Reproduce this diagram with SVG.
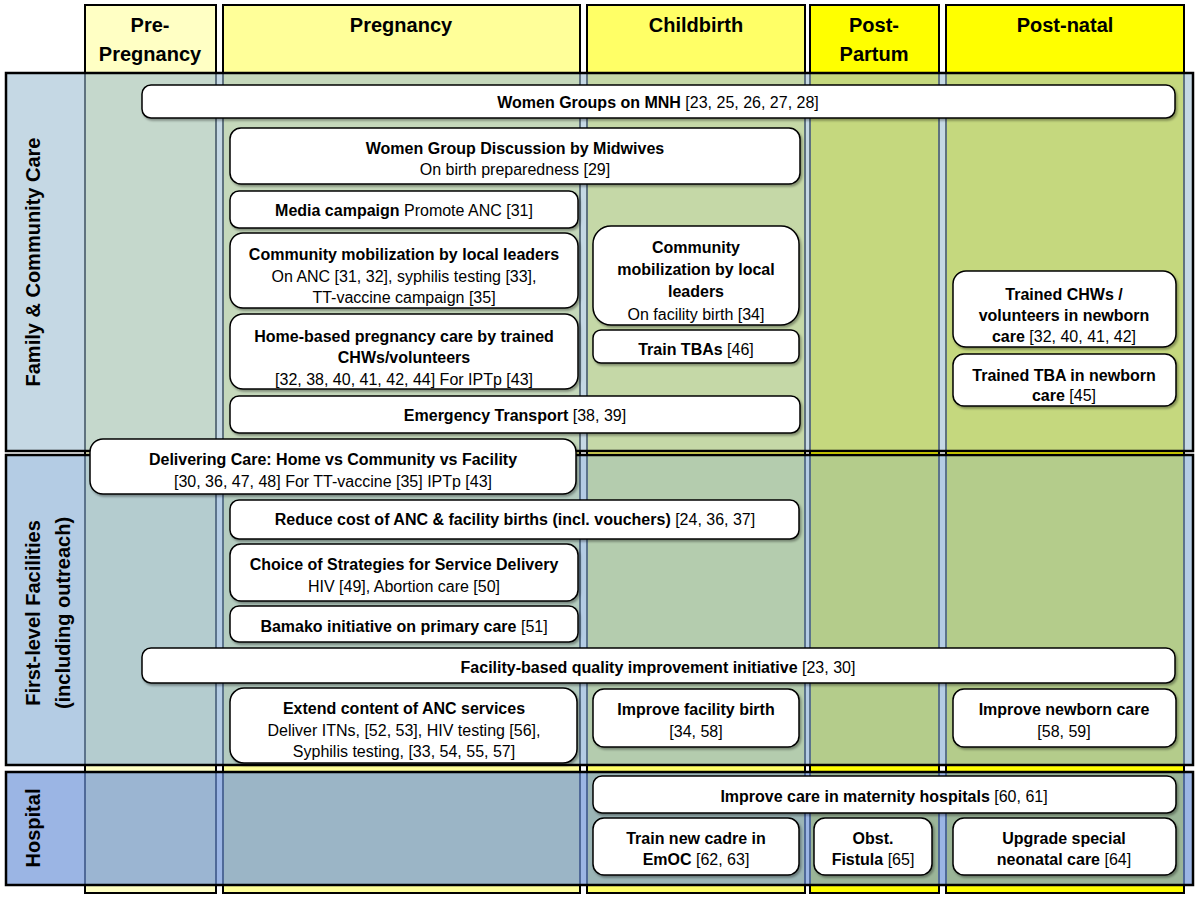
<svg xmlns="http://www.w3.org/2000/svg" width="1200" height="903" viewBox="0 0 1200 903">
<defs>
<filter id="sh" x="-5%" y="-20%" width="110%" height="150%">
<feDropShadow dx="1.5" dy="2" stdDeviation="1.2" flood-color="#000" flood-opacity="0.35"/>
</filter>
<style>
.col{stroke:#000;stroke-width:2}
.row{stroke:#000;stroke-width:2.5}
.box{fill:#fff;stroke:#000;stroke-width:1.5;filter:url(#sh)}
text{font-family:"Liberation Sans",Arial,sans-serif;fill:#000}
.hdr{font-size:20px;font-weight:bold;text-anchor:middle}
.lbl{font-size:20px;font-weight:bold;text-anchor:middle}
.t{font-size:16px;text-anchor:middle}
.b{font-weight:bold}
</style>
</defs>
<rect width="1200" height="903" fill="#fff"/>
<g id="columns">
<g id="col-prepregnancy"><rect class="col" x="85" y="5" width="131" height="888" fill="#FFFFC4"/><text class="hdr" x="150" y="32">Pre-</text><text class="hdr" x="150" y="61">Pregnancy</text></g>
<g id="col-pregnancy"><rect class="col" x="223" y="5" width="357" height="888" fill="#FFFF99"/><text class="hdr" x="401" y="32">Pregnancy</text></g>
<g id="col-childbirth"><rect class="col" x="587" y="5" width="218" height="888" fill="#FFFF66"/><text class="hdr" x="696" y="32">Childbirth</text></g>
<g id="col-postpartum"><rect class="col" x="810" y="5" width="129" height="888" fill="#FFFF00"/><text class="hdr" x="874" y="32">Post-</text><text class="hdr" x="874" y="61">Partum</text></g>
<g id="col-postnatal"><rect class="col" x="946" y="5" width="238" height="888" fill="#FFFF00"/><text class="hdr" x="1065" y="32">Post-natal</text></g>
</g>
<g id="rows">
<g id="row-family"><rect class="row" x="6" y="73" width="1187" height="378" fill="rgb(158,190,210)" fill-opacity="0.6"/><text class="lbl" transform="translate(40,262) rotate(-90)">Family &amp; Community Care</text></g>
<g id="row-firstlevel"><rect class="row" x="6" y="455" width="1187" height="310" fill="rgb(140,177,214)" fill-opacity="0.65"/><text class="lbl" transform="translate(40,613) rotate(-90)">First-level Facilities</text><text class="lbl" transform="translate(70,613) rotate(-90)">(including outreach)</text></g>
<g id="row-hospital"><rect class="row" x="6" y="772" width="1187" height="113" fill="rgb(112,149,216)" fill-opacity="0.7"/><text class="lbl" transform="translate(40,828) rotate(-90)">Hospital</text></g>
</g>
<g id="n1"><rect class="box" x="142" y="85" width="1033" height="33" rx="9"/><text class="t" x="658" y="108"><tspan class="b">Women Groups on MNH</tspan> [23, 25, 26, 27, 28]</text></g>
<g id="n2"><rect class="box" x="230" y="128" width="570" height="56" rx="11"/><text class="t" x="515" y="154"><tspan class="b">Women Group Discussion by Midwives</tspan></text><text class="t" x="515" y="175">On birth preparedness [29]</text></g>
<g id="n3"><rect class="box" x="230" y="191" width="348" height="37" rx="9"/><text class="t" x="404" y="216"><tspan class="b">Media campaign</tspan> Promote ANC [31]</text></g>
<g id="n4"><rect class="box" x="230" y="233" width="348" height="75" rx="13"/><text class="t b" x="404" y="260">Community mobilization by local leaders</text><text class="t" x="404" y="282">On ANC [31, 32],  syphilis testing [33],</text><text class="t" x="404" y="303">TT-vaccine campaign [35]</text></g>
<g id="n5"><rect class="box" x="230" y="314" width="348" height="75" rx="13"/><text class="t b" x="404" y="342">Home-based pregnancy care by trained</text><text class="t b" x="404" y="363">CHWs/volunteers</text><text class="t" x="404" y="385">[32, 38, 40, 41, 42, 44]  For IPTp [43]</text></g>
<g id="n6"><rect class="box" x="230" y="396" width="570" height="37" rx="9"/><text class="t" x="515" y="421"><tspan class="b">Emergency Transport</tspan> [38, 39]</text></g>
<g id="n7"><rect class="box" x="593" y="226" width="206" height="99" rx="18"/><text class="t b" x="696" y="253">Community</text><text class="t b" x="696" y="275">mobilization by local</text><text class="t b" x="696" y="297">leaders</text><text class="t" x="696" y="320">On facility birth [34]</text></g>
<g id="n8"><rect class="box" x="593" y="330" width="206" height="33" rx="8"/><text class="t" x="696" y="355"><tspan class="b">Train TBAs</tspan> [46]</text></g>
<g id="n9"><rect class="box" x="953" y="271" width="223" height="76" rx="13"/><text class="t b" x="1064" y="300">Trained CHWs /</text><text class="t b" x="1064" y="321">volunteers in newborn</text><text class="t" x="1064" y="342"><tspan class="b">care</tspan> [32, 40, 41, 42]</text></g>
<g id="n10"><rect class="box" x="953" y="354" width="223" height="52" rx="11"/><text class="t b" x="1064" y="381">Trained TBA in newborn</text><text class="t" x="1064" y="401"><tspan class="b">care</tspan> [45]</text></g>
<g id="n11"><rect class="box" x="90" y="439" width="486" height="55" rx="13"/><text class="t b" x="333" y="465">Delivering Care: Home vs Community vs Facility</text><text class="t" x="333" y="487">[30, 36, 47, 48]  For TT-vaccine [35] IPTp [43]</text></g>
<g id="n12"><rect class="box" x="230" y="500" width="569" height="39" rx="9"/><text class="t" x="515" y="525"><tspan class="b">Reduce cost of ANC &amp; facility births (incl.  vouchers)</tspan> [24, 36, 37]</text></g>
<g id="n13"><rect class="box" x="230" y="544" width="348" height="57" rx="11"/><text class="t b" x="404" y="570">Choice of Strategies for Service Delivery</text><text class="t" x="404" y="592">HIV [49], Abortion care [50]</text></g>
<g id="n14"><rect class="box" x="230" y="606" width="348" height="36" rx="9"/><text class="t" x="404" y="632"><tspan class="b">Bamako initiative on primary care</tspan> [51]</text></g>
<g id="n15"><rect class="box" x="142" y="648" width="1033" height="35" rx="9"/><text class="t" x="658" y="673"><tspan class="b">Facility-based quality improvement  initiative</tspan>  [23, 30]</text></g>
<g id="n16"><rect class="box" x="230" y="688" width="347" height="75" rx="14"/><text class="t b" x="404" y="714">Extend content of ANC services</text><text class="t" x="404" y="736">Deliver ITNs, [52, 53], HIV testing [56],</text><text class="t" x="404" y="757">Syphilis testing, [33, 54, 55, 57]</text></g>
<g id="n17"><rect class="box" x="593" y="689" width="206" height="58" rx="11"/><text class="t b" x="696" y="715">Improve facility birth</text><text class="t" x="696" y="737">[34, 58]</text></g>
<g id="n18"><rect class="box" x="953" y="689" width="223" height="58" rx="11"/><text class="t b" x="1064" y="715">Improve newborn care</text><text class="t" x="1064" y="737">[58, 59]</text></g>
<g id="n19"><rect class="box" x="593" y="776" width="583" height="37" rx="9"/><text class="t" x="884" y="802"><tspan class="b">Improve care in maternity hospitals</tspan> [60, 61]</text></g>
<g id="n20"><rect class="box" x="593" y="818" width="206" height="57" rx="11"/><text class="t b" x="696" y="844">Train new cadre in</text><text class="t" x="696" y="865"><tspan class="b">EmOC</tspan> [62, 63]</text></g>
<g id="n21"><rect class="box" x="814" y="818" width="118" height="57" rx="11"/><text class="t b" x="873" y="844">Obst.</text><text class="t" x="873" y="865"><tspan class="b">Fistula</tspan> [65]</text></g>
<g id="n22"><rect class="box" x="953" y="818" width="223" height="57" rx="11"/><text class="t b" x="1064" y="844">Upgrade  special</text><text class="t" x="1064" y="865"><tspan class="b">neonatal care</tspan>  [64]</text></g>
<g id="connectors"></g>
</svg>
